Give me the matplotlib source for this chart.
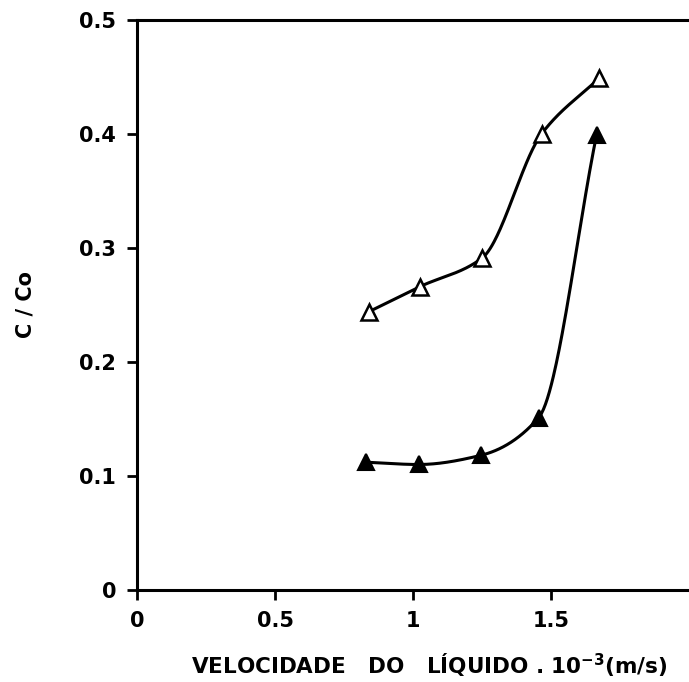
import numpy as np
import matplotlib
matplotlib.use("Agg")
import matplotlib.pyplot as plt

# Dados
vel_aberto = [0.84, 1.025, 1.25, 1.466, 1.675]
cc_aberto = [0.244, 0.266, 0.291, 0.400, 0.449]

vel_cheio = [0.83, 1.02, 1.245, 1.455, 1.665]
cc_cheio = [0.112, 0.110, 0.118, 0.151, 0.399]

xticks = [0, 0.5, 1, 1.5]
xtick_labels = ['0', '0.5', '1', '1.5']
yticks = [0, 0.1, 0.2, 0.3, 0.4, 0.5]
ytick_labels = ['0', '0.1', '0.2', '0.3', '0.4', '0.5']


def curva_suave(x, y, n=60):
    # interpolação cúbica monotônica (Fritsch-Carlson) para desenhar a curva
    x = np.asarray(x, float)
    y = np.asarray(y, float)
    h = np.diff(x)
    d = np.diff(y) / h
    m = np.zeros_like(y)
    m[0], m[-1] = d[0], d[-1]
    for i in range(1, len(x) - 1):
        if d[i - 1] * d[i] <= 0:
            m[i] = 0.0
        else:
            w1 = 2 * h[i] + h[i - 1]
            w2 = h[i] + 2 * h[i - 1]
            m[i] = (w1 + w2) / (w1 / d[i - 1] + w2 / d[i])
    xs, ys = [], []
    t = np.linspace(0, 1, n)
    for i in range(len(x) - 1):
        h00 = 2 * t**3 - 3 * t**2 + 1
        h10 = t**3 - 2 * t**2 + t
        h01 = -2 * t**3 + 3 * t**2
        h11 = t**3 - t**2
        xs.extend(x[i] + t * h[i])
        ys.extend(h00 * y[i] + h10 * h[i] * m[i] + h01 * y[i + 1] + h11 * h[i] * m[i + 1])
    return np.array(xs), np.array(ys)


fig = plt.figure(figsize=(6.89, 6.82), dpi=100)
ax = fig.add_axes([0.199, 0.135, 0.801, 0.836])

xa, ya = curva_suave(vel_aberto, cc_aberto)
ax.plot(xa, ya, color='black', lw=2.2, zorder=2)
ax.plot(vel_aberto, cc_aberto, linestyle='none', marker='^', ms=11,
        mfc='white', mec='black', mew=1.8, zorder=3)

xc, yc = curva_suave(vel_cheio, cc_cheio)
ax.plot(xc, yc, color='black', lw=2.2, zorder=2)
ax.plot(vel_cheio, cc_cheio, linestyle='none', marker='^', ms=11,
        mfc='black', mec='black', mew=1.5, zorder=3)

ax.set_xlim(0, 2.0)
ax.set_ylim(0, 0.5)
ax.set_xticks(xticks)
ax.set_xticklabels(xtick_labels, fontweight='bold')
ax.set_yticks(yticks)
ax.set_yticklabels(ytick_labels, fontweight='bold')

ax.spines['right'].set_visible(False)
for s in ['left', 'bottom', 'top']:
    ax.spines[s].set_linewidth(2.2)
ax.tick_params(direction='out', length=7, width=2, labelsize=15, pad=8)

ax.set_xlabel('VELOCIDADE   DO   LÍQUIDO . 10$^{\\mathbf{-3}}$(m/s)',
              fontsize=15.5, fontweight='bold')
ax.xaxis.set_label_coords(0.53, -0.108)
ax.set_ylabel('C / Co', fontsize=15, fontweight='bold')
ax.yaxis.set_label_coords(-0.185, 0.5)

plt.savefig('out.png', dpi=100)
